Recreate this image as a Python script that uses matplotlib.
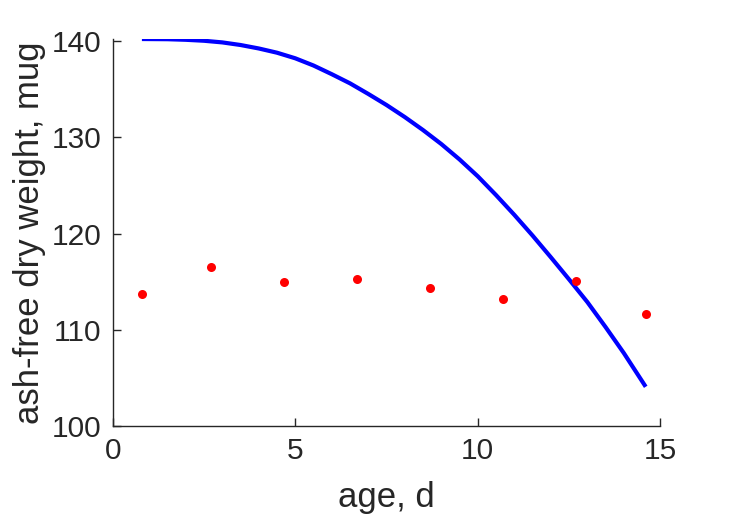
import matplotlib.pyplot as plt

# observed weights (red dots)
age_obs = [0.8, 2.7, 4.7, 6.7, 8.7, 10.7, 12.7, 14.6]
weight_obs = [113.7, 116.5, 115.0, 115.3, 114.4, 113.2, 115.1, 111.7]

# model curve (blue line)
age_fit = [0.8, 1.5, 2.0, 2.5, 3.0, 3.5, 4.0, 4.5, 5.0, 5.5, 6.0, 6.5, 7.0, 7.5,
           8.0, 8.5, 9.0, 9.5, 10.0, 10.5, 11.0, 11.5, 12.0, 12.5, 13.0, 13.5, 14.0, 14.6]
weight_fit = [140.2, 140.18, 140.12, 140.02, 139.85, 139.58, 139.22, 138.78, 138.2,
              137.45, 136.55, 135.6, 134.5, 133.35, 132.1, 130.75, 129.3, 127.7,
              125.95, 124.0, 121.95, 119.8, 117.55, 115.25, 112.9, 110.3, 107.6, 104.1]

xticks = [0, 5, 10, 15]
yticks = [100, 110, 120, 130, 140]

plt.rcParams['font.family'] = ['Liberation Sans', 'DejaVu Sans']
dark = '#262626'

fig = plt.figure(figsize=(7.29, 5.21), dpi=100)
ax = fig.add_axes([0.1546, 0.1818, 0.7512, 0.7433])

ax.plot(age_fit, weight_fit, color='blue', linewidth=3, solid_capstyle='butt',
        solid_joinstyle='round')
ax.plot(age_obs, weight_obs, 'o', color='red', markersize=6.5, markeredgewidth=0)

ax.set_xlim(0, 15)
ax.set_ylim(100, 140.2)
ax.set_xticks(xticks)
ax.set_yticks(yticks)
ax.tick_params(direction='in', length=6, width=1, colors=dark, labelsize=21.5, pad=8)

for side in ['top', 'right']:
    ax.spines[side].set_visible(False)
for side in ['left', 'bottom']:
    ax.spines[side].set_color(dark)
    ax.spines[side].set_linewidth(1)

ax.set_xlabel("age, d", fontsize=25, color=dark, labelpad=11)
ax.set_ylabel("ash-free dry weight, mug", fontsize=25, color=dark, labelpad=4)

fig.savefig("out.png", dpi=100)
